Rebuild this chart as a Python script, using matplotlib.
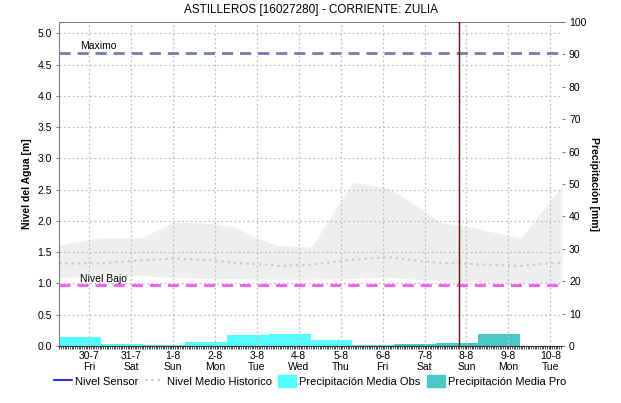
import matplotlib
matplotlib.use("Agg")
import matplotlib.pyplot as plt
from matplotlib.lines import Line2D
from matplotlib.patches import Patch
from matplotlib.ticker import MultipleLocator, FormatStrFormatter

plt.rcParams['font.family'] = ['Liberation Sans', 'DejaVu Sans']

title = "ASTILLEROS [16027280] - CORRIENTE: ZULIA"

# x axis in days, 0 = 30-7 00:00
day_labels = ["30-7", "31-7", "1-8", "2-8", "3-8", "4-8", "5-8", "6-8", "7-8", "8-8", "9-8", "10-8"]
weekday_labels = ["Fri", "Sat", "Sun", "Mon", "Tue", "Wed", "Thu", "Fri", "Sat", "Sun", "Mon", "Tue"]
x_start = -0.72
x_end = 11.28

# historical level band (m)
hist_days = [-0.72, -0.35, 0.25, 1.25, 2.0, 2.95, 3.45, 4.25, 4.5, 5.3, 6.3, 7.15, 7.9, 8.35, 9.1, 10.3, 11.2, 11.28]
hist_upper = [1.61, 1.66, 1.73, 1.73, 1.98, 1.96, 1.90, 1.66, 1.61, 1.58, 2.62, 2.52, 2.20, 1.98, 1.90, 1.72, 2.49, 2.55]
hist_lower = [1.10, 1.10, 1.11, 1.13, 1.09, 1.08, 1.08, 1.07, 1.07, 1.07, 1.08, 1.10, 1.06, 1.04, 1.03, 1.01, 1.01, 1.01]
hist_mean = [1.32, 1.32, 1.32, 1.37, 1.40, 1.37, 1.33, 1.30, 1.28, 1.30, 1.38, 1.42, 1.36, 1.33, 1.31, 1.28, 1.33, 1.34]

# daily precipitation (mm)
precip_obs = [2.8, 0.5, 0.2, 1.2, 3.3, 3.6, 1.8, 0.2, 0.0, 0.0, 0.0, 0.0]
precip_pro = [0.0, 0.0, 0.0, 0.0, 0.0, 0.0, 0.0, 0.0, 0.6, 0.8, 3.8, 0.0]

maximo = 4.68
nivel_bajo = 0.97
now_day = 8.82

c_obs = '#55ffff'
c_pro = '#48c8c8'
grid_c = '#c0c0c0'

fig = plt.figure(figsize=(6.21, 4.03), dpi=100)
ax = fig.add_axes([59 / 621, 57 / 403, 503 / 621, 324 / 403])
ax2 = ax.twinx()
ax.set_zorder(2)
ax.patch.set_visible(False)

ax.fill_between(hist_days, hist_lower, hist_upper, color='#efefef', lw=0, zorder=1)
ax.plot(hist_days, hist_mean, color='#cccccc', lw=1.5, ls=(0, (1.2, 1.8)), zorder=2)

ax.axhline(maximo, color='#7080a8', lw=2, ls=(0, (4, 2.5)), zorder=3)
ax.axhline(nivel_bajo, color='#ff55ff', lw=2, ls=(0, (4, 2.5)), zorder=3)
ax.text(x_start + 0.5, maximo + 0.03, "Maximo", fontsize=7.5, va='bottom', zorder=4)
ax.text(x_start + 0.5, nivel_bajo + 0.02, "Nivel Bajo", fontsize=7.5, va='bottom', zorder=4)

# current time marker
ax.axvline(now_day, color='#222222', lw=1, zorder=5)
ax.axvline(now_day, color='#cc0000', lw=0.8, ls=(0, (3, 3)), zorder=6)

lefts = [x_start + k for k in range(len(precip_obs))]
ax2.bar(lefts, precip_obs, width=1.0, align='edge', color=c_obs, lw=0, zorder=1)
ax2.bar(lefts, precip_pro, width=1.0, align='edge', color=c_pro, lw=0, zorder=2)

ax.set_xlim(x_start, x_end)
ax.set_ylim(0, 5.18)
ax2.set_ylim(0, 100)

ax.set_xticks(range(len(day_labels)))
ax.set_xticklabels([d + "\n" + w for d, w in zip(day_labels, weekday_labels)], fontsize=7.5, linespacing=1.15)
ax.xaxis.set_minor_locator(MultipleLocator(1 / 24))
ax.tick_params(axis='x', which='major', length=2, color='#333333', pad=1.5)
ax.tick_params(axis='x', which='minor', length=2, color='#333333')
ax.yaxis.set_major_locator(MultipleLocator(0.5))
ax.yaxis.set_major_formatter(FormatStrFormatter('%.1f'))
ax.tick_params(axis='y', length=2, color='#808080', labelsize=7.5, pad=3)
ax2.yaxis.set_major_locator(MultipleLocator(10))
ax2.tick_params(axis='y', length=2, color='#808080', labelsize=7.5, pad=3)

ax.grid(True, color=grid_c, ls=(0, (1.5, 2)), lw=0.9)

ax.spines['right'].set_visible(False)
ax.spines['left'].set_color('#808080')
ax.spines['top'].set_color('#808080')
ax.spines['bottom'].set_color('#333333')
for s in ax2.spines.values():
    s.set_visible(False)

ax.set_ylabel("Nivel del Agua [m]", fontsize=7.5, fontweight='bold', labelpad=4)
ax2.set_ylabel("Precipitación [mm]", fontsize=7.5, fontweight='bold', rotation=270, labelpad=9)
fig.text(0.5, 1 - 10 / 403, title, ha='center', va='center', fontsize=8.5)

handles = [
    Line2D([], [], color='blue', lw=1.2),
    Line2D([], [], color='#cccccc', lw=1.5, ls=(0, (1.2, 1.8))),
    Patch(color=c_obs),
    Patch(color=c_pro),
]
labels = ["Nivel Sensor", "Nivel Medio Historico", "Precipitación Media Obs", "Precipitación Media Pro"]
fig.legend(handles, labels, loc='center', bbox_to_anchor=(0.5, 1 - 381 / 403), ncol=4, frameon=False,
           fontsize=8, handlelength=1.6, handleheight=1.2, handletextpad=0.3, columnspacing=0.6)

fig.savefig("out.png", dpi=100)
